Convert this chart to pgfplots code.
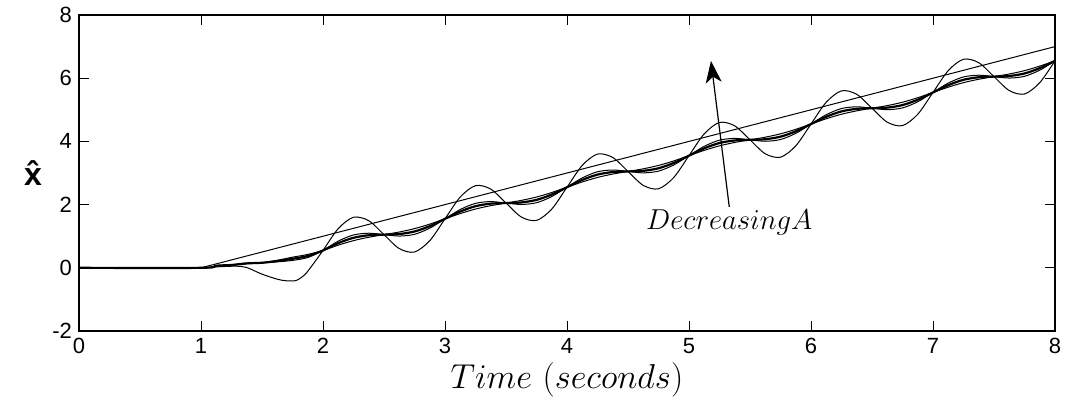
\documentclass[border=0pt]{standalone}
\usepackage{fontspec}
\setmainfont{Liberation Sans}
\usepackage{pgfplots}
\pgfplotsset{compat=1.18}
\usetikzlibrary{arrows.meta}
\begin{document}
\begin{tikzpicture}
\begin{axis}[
 scale only axis, width=488pt, height=158pt,
 xmin=0, xmax=8, ymin=-2, ymax=8,
 xtick={0,1,2,3,4,5,6,7,8}, ytick={-2,0,2,4,6,8},
 tick align=inside, major tick length=5pt,
 tick style={black, line width=0.5pt},
 axis line style={line width=0.6pt},
 /pgf/number format/assume math mode=true,
 ticklabel style={font=\fontsize{11}{13}\selectfont},
 xlabel={$Time\ (seconds)$},
 xlabel style={font=\fontsize{19}{22}\selectfont, at={(axis description cs:0.5,0)}, anchor=center, yshift=-24.5pt},
 ylabel={\bfseries\^{x}},
 ylabel style={font=\fontsize{16}{19}\selectfont, at={(axis description cs:-0.047,0.5)}, anchor=center, rotate=-90},
]
% ramp reference
\addplot[black, line width=0.5pt] coordinates {(0,0)(1,0)(8,7)};
% large A
\addplot[black, line width=0.5pt, smooth] coordinates {
(0,0)(1,0)(1.125,0.03)(1.25,0.05)(1.3,0.05)(1.375,0.01)(1.5,-0.2)(1.625,-0.36)(1.7,-0.41)(1.78,-0.4)(1.85,-0.22)(1.9,0.02)(1.95,0.28)(2,0.55)
(2.125,1.241)(2.25,1.6)(2.375,1.491)(2.5,1.05)(2.625,0.609)(2.75,0.5)(2.875,0.859)
(3,1.55)(3.125,2.241)(3.25,2.6)(3.375,2.491)(3.5,2.05)(3.625,1.609)(3.75,1.5)(3.875,1.859)
(4,2.55)(4.125,3.241)(4.25,3.6)(4.375,3.491)(4.5,3.05)(4.625,2.609)(4.75,2.5)(4.875,2.859)
(5,3.55)(5.125,4.241)(5.25,4.6)(5.375,4.491)(5.5,4.05)(5.625,3.609)(5.75,3.5)(5.875,3.859)
(6,4.55)(6.125,5.241)(6.25,5.6)(6.375,5.491)(6.5,5.05)(6.625,4.609)(6.75,4.5)(6.875,4.859)
(7,5.55)(7.125,6.241)(7.25,6.6)(7.375,6.491)(7.5,6.05)(7.625,5.609)(7.75,5.5)(7.875,5.859)
(8,6.55)};
% medium A
\addplot[black, line width=0.5pt, smooth] coordinates {
(0,0)(1,0)(1.125,0.068)(1.25,0.095)(1.375,0.149)(1.5,0.16)(1.625,0.189)(1.75,0.235)(1.875,0.325)
(2,0.55)(2.125,0.845)(2.25,1.04)(2.375,1.095)(2.5,1.05)(2.625,1.005)(2.75,1.06)(2.875,1.255)
(3,1.55)(3.125,1.845)(3.25,2.04)(3.375,2.095)(3.5,2.05)(3.625,2.005)(3.75,2.06)(3.875,2.255)
(4,2.55)(4.125,2.845)(4.25,3.04)(4.375,3.095)(4.5,3.05)(4.625,3.005)(4.75,3.06)(4.875,3.255)
(5,3.55)(5.125,3.845)(5.25,4.04)(5.375,4.095)(5.5,4.05)(5.625,4.005)(5.75,4.06)(5.875,4.255)
(6,4.55)(6.125,4.845)(6.25,5.04)(6.375,5.095)(6.5,5.05)(6.625,5.005)(6.75,5.06)(6.875,5.255)
(7,5.55)(7.125,5.845)(7.25,6.04)(7.375,6.095)(7.5,6.05)(7.625,6.005)(7.75,6.06)(7.875,6.255)
(8,6.55)};
% smaller A (thick)
\addplot[black, smooth, line width=1.1pt] coordinates {
(0,0)(1,0)(1.125,0.067)(1.25,0.089)(1.375,0.140)(1.5,0.16)(1.625,0.214)(1.75,0.286)(1.875,0.374)
(2,0.55)(2.125,0.781)(2.25,0.95)(2.375,1.031)(2.5,1.05)(2.625,1.069)(2.75,1.15)(2.875,1.319)
(3,1.55)(3.125,1.781)(3.25,1.95)(3.375,2.031)(3.5,2.05)(3.625,2.069)(3.75,2.15)(3.875,2.319)
(4,2.55)(4.125,2.781)(4.25,2.95)(4.375,3.031)(4.5,3.05)(4.625,3.069)(4.75,3.15)(4.875,3.319)
(5,3.55)(5.125,3.781)(5.25,3.95)(5.375,4.031)(5.5,4.05)(5.625,4.069)(5.75,4.15)(5.875,4.319)
(6,4.55)(6.125,4.781)(6.25,4.95)(6.375,5.031)(6.5,5.05)(6.625,5.069)(6.75,5.15)(6.875,5.319)
(7,5.55)(7.125,5.781)(7.25,5.95)(7.375,6.031)(7.5,6.05)(7.625,6.069)(7.75,6.15)(7.875,6.319)
(8,6.55)};
% smallest A
\addplot[black, line width=0.5pt, smooth] coordinates {
(0,0)(1,0)(1.125,0.066)(1.25,0.084)(1.375,0.131)(1.5,0.16)(1.625,0.238)(1.75,0.336)(1.875,0.423)
(2,0.55)(2.125,0.717)(2.25,0.86)(2.375,0.967)(2.5,1.05)(2.625,1.133)(2.75,1.24)(2.875,1.383)
(3,1.55)(3.125,1.717)(3.25,1.86)(3.375,1.967)(3.5,2.05)(3.625,2.133)(3.75,2.24)(3.875,2.383)
(4,2.55)(4.125,2.717)(4.25,2.86)(4.375,2.967)(4.5,3.05)(4.625,3.133)(4.75,3.24)(4.875,3.383)
(5,3.55)(5.125,3.717)(5.25,3.86)(5.375,3.967)(5.5,4.05)(5.625,4.133)(5.75,4.24)(5.875,4.383)
(6,4.55)(6.125,4.717)(6.25,4.86)(6.375,4.967)(6.5,5.05)(6.625,5.133)(6.75,5.24)(6.875,5.383)
(7,5.55)(7.125,5.717)(7.25,5.86)(7.375,5.967)(7.5,6.05)(7.625,6.133)(7.75,6.24)(7.875,6.383)
(8,6.55)};
\draw[-{Stealth[length=11pt,width=8pt,inset=3pt]}, line width=0.6pt] (axis cs:5.33,1.93) -- (axis cs:5.18,6.55);
\node[anchor=base, font=\fontsize{13.5}{16}\selectfont, inner sep=0pt] at (axis cs:5.33,1.2) {$DecreasingA$};
\end{axis}
\pgfresetboundingbox
\path ([shift={(-39.5pt,-40pt)}]current axis.south west) rectangle ([shift={(5pt,7.5pt)}]current axis.north east);
\end{tikzpicture}
\end{document}
